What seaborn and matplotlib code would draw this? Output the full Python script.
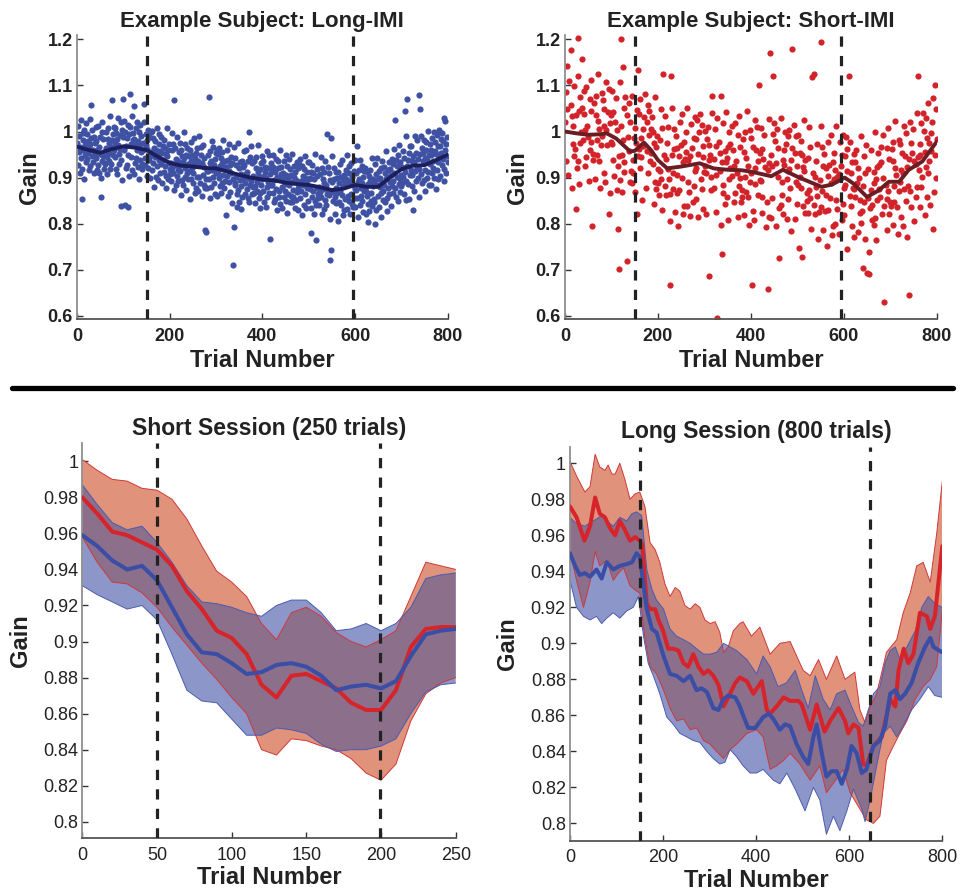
import numpy as np
import matplotlib
matplotlib.use("Agg")
import matplotlib.pyplot as plt
from matplotlib.lines import Line2D
import seaborn as sns

# ---------------------------------------------------------------------------
# Example subjects: gain on every trial (values in thousandths), trials 1..800
# None marks a trial without a usable gain value
# ---------------------------------------------------------------------------
long_imi_gain_milli = [
    975, 928, 1011, 955, 990, 911, 966, 1024, 942, 853, 919, 996, 961, 982, 896, 1003, 948, 971, 1018, 934,
    940, 994, 953, 980, 917, 967, 1028, 925, 972, 1058, 986, 947, 1003, 934, 960, 989, 909, 975, 951, 1010,
    980, 942, 917, 961, 1013, 928, 966, 909, 989, 952, 857, 899, 998, 936, 1021, 946, 984, 918, 956, 932,
    930, 964, 999, 944, 907, 984, 1007, 954, 935, 976, 1033, 918, 967, 929, 981, 1068, 995, 948, 1010, 959,
    1007, 944, 975, 919, 996, 984, 908, 971, 1029, 952, 930, 992, 962, 1020, 938, 838, 895, 1003, 1070, 989,
    959, 1023, 840, 998, 921, 968, 986, 927, 1015, 949, 836, 904, 994, 1010, 1081, 972, 945, 1034, 916, 981,
    996, 1056, 907, 983, 970, 931, 1008, 943, 959, 1021, 922, 979, 999, 897, 973, 938, 1014, 956, 991, 919,
    930, 975, 959, 1060, 1020, 943, 927, 994, 970, 904, 981, 963, 920, 1003, 938, 989, 947, 899, 998, 956,
    917, 1001, 954, 931, 986, 879, 965, 944, 979, 902, 961, 925, 1007, 949, 894, 973, 938, 994, 911, 958,
    989, 930, 954, 888, 968, 939, 913, 982, 926, 965, 877, 951, 904, 1007, 946, 896, 959, 932, 973, 919,
    907, 931, 893, 959, 921, 996, 911, 973, 874, 1068, 927, 964, 884, 941, 903, 988, 936, 892, 917, 955,
    925, 976, 914, 961, 862, 947, 895, 933, 884, 999, 942, 901, 920, 973, 950, 873, 910, 965, 930, 896,
    947, 914, 961, 853, 937, 896, 978, 920, 950, 888, 910, 987, 929, 866, 942, 954, 877, 933, 902, 965,
    937, 872, 990, 901, 928, 889, 966, 950, 860, 932, 905, 971, 883, 942, 924, 877, 786, 896, 781, 915,
    877, 949, 914, 1076, 896, 931, 855, 957, 937, 880, 979, 917, 901, 966, 889, 928, 941, 865, 910, 954,
    918, 960, 861, 909, 951, 900, 965, 882, 925, 943, 866, 932, 956, 889, 905, 982, 877, 921, 937, 892,
    924, 818, 960, 904, 939, 860, 915, 973, 891, 927, 868, 945, 910, 931, 845, 710, 897, 792, 967, 883,
    888, 942, 901, 928, 865, 836, 976, 873, 920, 846, 934, 895, 832, 882, 908, 937, 857, 923, 899, 958,
    927, 889, 864, 908, 960, 875, 913, 856, 936, 899, 1000, 846, 945, 883, 968, 893, 931, 865, 903, 879,
    867, 901, 936, 881, 844, 921, 944, 891, 872, 913, 970, 855, 904, 866, 918, 833, 932, 885, 947, 896,
    935, 872, 903, 847, 924, 912, 836, 899, 957, 880, 858, 920, 890, 948, 866, 907, 766, 931, 884, 917,
    885, 949, 866, 924, 847, 894, 912, 853, 941, 875, 902, 830, 920, 936, 859, 898, 871, 960, 842, 907,
    923, 879, 834, 910, 897, 858, 935, 870, 886, 948, 849, 906, 926, 824, 900, 865, 941, 883, 918, 846,
    861, 906, 890, 846, 951, 874, 858, 925, 901, 835, 912, 894, 851, 934, 869, 920, 878, 830, 929, 887,
    856, 940, 893, 870, 925, 818, 904, 883, 918, 841, 900, 864, 946, 888, 833, 912, 877, 933, 850, 897,
    934, 875, 899, 833, 913, 780, 858, 927, 871, 910, 822, 896, 849, 952, 765, 841, 904, 877, 918, 864,
    855, 879, 841, 907, 869, 944, 859, 921, 822, 898, 875, 912, 832, 889, 851, 936, 884, 840, 865, 994,
    873, 924, 862, 909, 810, 895, 721, 985, 743, 947, 890, 849, 868, 921, 898, 821, 858, 913, 878, 844,
    899, 866, 913, 805, 889, 848, 930, 872, 902, 840, 862, 939, 881, 818, 894, 906, 829, 885, 854, 917,
    897, 832, 950, 861, 888, 849, 926, 910, 820, 892, 865, 931, 843, 902, 884, 837, 914, 856, 939, 875,
    837, 909, 874, 969, 856, 891, 815, 917, 897, 840, 939, 877, 861, 926, 849, 888, 901, 825, 870, 914,
    879, 921, 822, 870, 912, 861, 803, 843, 886, 904, 827, 893, 917, 850, 866, 943, 838, 882, 898, 853,
    893, 846, 929, 800, 908, 829, 884, 942, 860, 896, 837, 914, 879, 900, 814, 921, 866, 889, 936, 852,
    870, 924, 883, 910, 847, 897, 958, 855, 902, 828, 916, 877, 933, 864, 890, 919, 839, 905, 881, 940,
    930, 892, 867, 911, 963, 878, 1025, 859, 939, 902, 925, 849, 948, 886, 971, 896, 934, 868, 906, 882,
    888, 922, 957, 902, 865, 942, 1045, 912, 893, 852, 991, 1070, 925, 887, 939, 854, 953, 906, 968, 917,
    969, 906, 937, 881, 830, 946, 870, 933, 991, 914, 892, 954, 924, 982, 900, 941, 857, 1079, 918, 951,
    1049, 990, 907, 965, 888, 935, 953, 894, 982, 916, 943, 871, 961, 977, 900, 939, 912, 1001, 883, 948,
    974, 930, 885, 961, 948, 909, 986, 921, 937, 999, 900, 957, 977, 875, 951, 916, 992, 934, 969, 897,
    1004, 945, 969, 903, 983, 954, 928, 997, 941, 980, 892, 1029, 919, 1022, 961, 911, 974, 947, 988, 934,
]

N = None
short_imi_gain_milli = [
    1020, 936, 1085, 1142, 1048, 905, N, 1109, N, N, N, 1058, 1176, 1033, 878, N, 972, 1013, 1098, 947,
    963, N, 831, 1035, 921, N, 1121, 936, 1202, 887, 1045, 975, 1076, N, 999, 1051, 1158, N, 982, 1089,
    1038, N, 925, 1004, 1097, 944, 1013, N, N, 988, N, 892, 1070, 959, 1112, 977, 1045, 794, N, 952,
    939, N, 1063, N, 898, 1036, 1078, 982, 948, 1022, 1124, N, 1006, 937, N, 878, N, 971, 1083, 991,
    1069, N, 1011, 910, 1049, N, 891, 1004, 1108, 970, N, 1042, N, 1092, 822, 1018, 867, N, 977, 1036,
    972, 1088, 938, 1043, 904, N, 1021, N, 1073, N, 1003, 873, 789, N, 926, 701, 947, 1107, 895, 1012,
    1200, 950, 869, 1139, 982, 912, 1051, 934, N, 1074, N, N, 1035, 718, 988, N, 1062, 957, 1020, 891,
    915, N, N, 888, 1077, 939, 910, N, 987, 868, 1007, 975, N, 1047, N, 822, 946, 1133, 1038, 962,
    920, 1071, 986, 945, N, 851, 1006, 968, 1031, N, N, N, 1082, N, 878, 1021, 958, 1058, 909, 993,
    1044, 937, N, N, 1006, 954, N, 1031, 930, 1000, 842, 975, 891, 1076, 966, 876, 990, N, N, 918,
    889, N, 863, 982, 914, 1049, 896, 1007, 829, N, 1124, N, N, 950, 881, 1034, 941, 862, N, 975,
    918, 1010, 898, N, 805, 666, 864, 1120, N, 1051, 949, 875, 909, 1005, 963, 825, N, 990, N, 866,
    965, 906, N, 796, 947, 874, 1021, N, 971, N, 899, 1037, 933, 820, N, 978, 839, 940, N, 998,
    955, 838, 1050, 890, 939, 869, N, N, 816, 946, N, 1016, N, 964, N, 847, 986, 881, 1031, 915,
    854, 983, 920, 1025, N, 951, 814, 998, N, N, 1037, N, 897, 1014, 875, 945, 969, 832, 913, N,
    925, 1001, 822, 909, 984, N, 1010, N, 938, 970, 687, 950, N, 873, 902, 1040, 1077, N, N, 878,
    940, N, 1005, 905, 968, 825, 595, 1029, N, N, N, 978, 915, 953, 798, 1078, 735, 933, 1018, 867,
    885, N, N, 957, 843, 933, 1043, 858, 942, 809, 967, 897, 998, N, 921, 973, N, N, 904, 1011,
    960, N, 847, 926, 1019, 866, 935, N, N, 910, N, 814, 992, 881, 1034, 899, 967, 848, N, 874,
    859, N, 983, N, 818, 956, 998, 902, 868, 942, 1044, N, 926, 857, N, 798, N, 891, 1003, 911,
    986, N, 666, 827, 966, N, 808, 921, 1025, 887, N, 959, N, 1009, 862, 935, 1100, N, 894, 953,
    892, 1008, 858, 963, 824, N, 941, N, 993, N, 923, 793, N, N, 846, 916, 658, 1027, 815, 932,
    N, 1170, 813, 950, 926, 856, 995, 1120, N, 1018, N, N, 979, 795, 932, N, 1006, 901, 964, 835,
    726, N, N, 840, 1029, 891, 862, N, 939, 820, 959, 927, N, 999, N, 973, 898, 811, 990, 914,
    853, 1004, 919, 878, N, 784, 939, 1180, 964, N, N, N, 1015, N, 811, 954, 891, 991, 842, 926,
    992, 885, N, 748, 954, 902, N, 979, 878, 948, 728, 923, 839, 1024, 914, 824, 938, N, N, 866,
    849, N, 823, 942, 874, 1009, 856, 967, 789, N, 1118, N, N, 910, 841, 1125, 901, 822, N, 935,
    880, 972, 860, N, 767, N, 826, 895, N, 1013, 1194, 837, 871, 967, 925, 787, N, 952, N, 828,
    921, 862, N, 752, 903, 830, 977, N, 927, N, 855, 993, 889, 776, N, 934, 795, 896, N, 954,
    917, 800, 1012, 852, 901, 831, N, N, 778, 908, N, 978, N, 926, N, 809, 948, 843, 993, 877,
    818, 947, 884, 989, N, 915, 744, 962, N, N, 1120, N, 861, 978, 839, 909, 933, 796, 877, N,
    875, 951, 772, 859, 934, N, 960, N, 888, 920, 781, 900, N, 823, 852, 990, 801, N, N, 828,
    881, 704, 946, 846, 909, 766, N, 970, N, N, 693, 919, 856, 690, 739, N, 833, 874, 959, 808,
    840, N, N, 912, 798, 888, 998, 813, 897, 764, 922, 852, 953, N, 876, 928, N, N, 859, 966,
    933, N, 820, 899, 992, 839, 630, N, N, 883, N, 787, 965, 854, 1007, 872, 940, 821, N, 847,
    838, N, 962, N, 797, 935, 977, 881, 847, 921, 1023, N, 905, 836, N, 777, N, 870, 982, 890,
    974, N, 916, 815, 954, N, 796, 909, 1013, 875, N, 947, N, 997, 850, 923, 772, N, 882, 941,
    646, 1021, 871, 976, 837, N, 954, N, 1006, N, 936, 806, N, N, 859, 929, 880, 1040, 1120, 945,
    N, 917, 836, 973, 949, 879, 1018, 901, N, 1041, N, N, 1002, 818, 955, N, 1029, 924, 987, 858,
    910, 1061, 976, 935, N, 841, 996, 958, 1021, N, 788, N, 1072, N, 868, 1100, 948, 1048, 899, 983,
]

# Running-average curves drawn through the example subjects
long_smooth_trial = [0, 25, 50, 75, 100, 125, 150, 175, 200, 225, 250, 275, 300, 325, 350, 375, 400,
                     425, 450, 475, 500, 525, 550, 575, 600, 625, 650, 675, 700, 725, 750, 775, 800]
long_smooth_gain = [0.967, 0.960, 0.954, 0.962, 0.968, 0.965, 0.960, 0.945, 0.932, 0.926, 0.924, 0.921,
                    0.920, 0.913, 0.906, 0.900, 0.896, 0.894, 0.889, 0.886, 0.884, 0.879, 0.873, 0.876,
                    0.884, 0.880, 0.880, 0.900, 0.918, 0.926, 0.927, 0.938, 0.950]

short_smooth_trial = [0, 25, 50, 75, 90, 110, 140, 150, 170, 185, 200, 220, 250, 290, 320, 350, 380,
                      400, 444, 469, 502, 552, 575, 602, 621, 650, 675, 697, 719, 740, 769, 800]
short_smooth_gain = [1.000, 0.996, 0.993, 0.994, 0.996, 0.985, 0.957, 0.958, 0.976, 0.960, 0.938, 0.920,
                     0.924, 0.931, 0.920, 0.917, 0.916, 0.913, 0.903, 0.917, 0.901, 0.880, 0.885, 0.900,
                     0.887, 0.858, 0.872, 0.891, 0.891, 0.917, 0.935, 0.978]

example_markers = [150, 595]

# ---------------------------------------------------------------------------
# Group averages, short session (250 trials): mean and band limits
# ---------------------------------------------------------------------------
ss_trial = [0, 10, 20, 30, 40, 50, 60, 70, 80, 90, 100, 110, 120, 130, 140, 150, 160, 170, 180,
            190, 200, 210, 220, 230, 240, 250]
ss_red_mean = [0.980, 0.971, 0.961, 0.959, 0.955, 0.951, 0.942, 0.928, 0.918, 0.906, 0.902, 0.893, 0.876,
               0.869, 0.881, 0.882, 0.878, 0.874, 0.866, 0.862, 0.862, 0.873, 0.897, 0.907, 0.908, 0.908]
ss_red_hi = [1.001, 0.995, 0.990, 0.989, 0.985, 0.984, 0.979, 0.968, 0.953, 0.939, 0.933, 0.925, 0.910,
             0.901, 0.916, 0.919, 0.914, 0.905, 0.900, 0.897, 0.901, 0.906, 0.925, 0.944, 0.942, 0.940]
ss_red_lo = [0.958, 0.944, 0.933, 0.932, 0.927, 0.919, 0.908, 0.898, 0.888, 0.879, 0.869, 0.860, 0.840,
             0.837, 0.846, 0.845, 0.842, 0.840, 0.835, 0.827, 0.823, 0.832, 0.856, 0.871, 0.877, 0.880]
ss_blue_mean = [0.959, 0.953, 0.945, 0.940, 0.942, 0.934, 0.919, 0.904, 0.894, 0.893, 0.888, 0.882, 0.883,
                0.887, 0.888, 0.886, 0.881, 0.873, 0.875, 0.876, 0.874, 0.878, 0.892, 0.904, 0.906, 0.907]
ss_blue_hi = [0.987, 0.976, 0.966, 0.962, 0.964, 0.955, 0.944, 0.931, 0.922, 0.921, 0.919, 0.916, 0.914,
              0.920, 0.923, 0.923, 0.916, 0.906, 0.907, 0.910, 0.906, 0.910, 0.919, 0.935, 0.937, 0.938]
ss_blue_lo = [0.931, 0.926, 0.922, 0.918, 0.920, 0.912, 0.893, 0.873, 0.867, 0.866, 0.857, 0.848, 0.848,
              0.852, 0.851, 0.849, 0.843, 0.839, 0.840, 0.840, 0.842, 0.846, 0.860, 0.872, 0.876, 0.877]
ss_markers = [50, 199]

# ---------------------------------------------------------------------------
# Group averages, long session (800 trials)
# ---------------------------------------------------------------------------
ls_red_mean_t = [0, 14, 31, 43, 54, 64, 75, 86, 97, 107, 118, 129, 140, 150, 155, 165, 172, 183, 190, 200,
                 211, 222, 233, 244, 254, 265, 276, 287, 297, 308, 319, 330, 340, 355, 365, 380, 394, 412,
                 423, 430, 444, 459, 473, 491, 498, 516, 530, 547, 559, 577, 591, 598, 609, 620, 630, 637,
                 652, 670, 688, 699, 706, 717, 727, 738, 752, 767, 774, 784, 800]
ls_red_mean = [0.976, 0.970, 0.957, 0.965, 0.981, 0.972, 0.970, 0.964, 0.960, 0.968, 0.963, 0.957, 0.959,
               0.957, 0.955, 0.922, 0.919, 0.919, 0.913, 0.907, 0.897, 0.897, 0.896, 0.889, 0.887, 0.894,
               0.887, 0.883, 0.885, 0.882, 0.877, 0.865, 0.870, 0.878, 0.881, 0.879, 0.872, 0.879, 0.863,
               0.861, 0.865, 0.870, 0.868, 0.868, 0.866, 0.852, 0.866, 0.851, 0.857, 0.864, 0.857, 0.850,
               0.855, 0.853, 0.833, 0.832, 0.843, 0.848, 0.869, 0.865, 0.885, 0.897, 0.889, 0.894, 0.917,
               0.915, 0.908, 0.915, 0.954]

ls_red_hi_t = [0, 14, 32, 43, 54, 64, 75, 82, 90, 97, 107, 118, 129, 140, 150, 161, 172, 183, 193, 204,
               215, 226, 236, 247, 258, 269, 279, 290, 301, 312, 322, 330, 340, 351, 365, 372, 390, 408,
               430, 451, 473, 501, 516, 534, 551, 573, 591, 612, 623, 634, 645, 659, 680, 702, 716, 731,
               745, 759, 774, 788, 800]
ls_red_hi = [1.001, 0.993, 0.984, 0.987, 1.005, 0.998, 0.996, 0.999, 0.994, 0.994, 1.000, 0.991, 0.980,
             0.983, 0.984, 0.976, 0.956, 0.952, 0.945, 0.933, 0.926, 0.931, 0.929, 0.921, 0.919, 0.922,
             0.920, 0.913, 0.911, 0.912, 0.906, 0.895, 0.898, 0.907, 0.911, 0.912, 0.904, 0.909, 0.894,
             0.900, 0.901, 0.885, 0.882, 0.891, 0.880, 0.893, 0.880, 0.884, 0.863, 0.856, 0.865, 0.872,
             0.895, 0.902, 0.917, 0.928, 0.943, 0.945, 0.934, 0.961, 0.990]

ls_red_lo_t = [0, 14, 29, 43, 54, 64, 79, 93, 104, 115, 129, 143, 150, 160, 172, 186, 201, 215, 229, 244,
               258, 272, 287, 301, 315, 330, 344, 358, 380, 401, 415, 430, 444, 459, 473, 494, 516, 537,
               551, 565, 587, 602, 623, 637, 652, 666, 680, 695, 709, 724, 742, 759, 774, 788, 800]
ls_red_lo = [0.951, 0.935, 0.920, 0.934, 0.951, 0.943, 0.946, 0.935, 0.939, 0.942, 0.932, 0.929, 0.928,
             0.905, 0.887, 0.883, 0.874, 0.864, 0.857, 0.858, 0.852, 0.853, 0.846, 0.844, 0.840, 0.836,
             0.841, 0.844, 0.850, 0.852, 0.848, 0.830, 0.832, 0.835, 0.839, 0.833, 0.824, 0.832, 0.817,
             0.822, 0.830, 0.817, 0.808, 0.802, 0.800, 0.804, 0.835, 0.843, 0.850, 0.857, 0.869, 0.876,
             0.880, 0.887, 0.918]

ls_blue_mean_t = [0, 11, 21, 32, 43, 57, 68, 79, 93, 107, 122, 133, 143, 150, 158, 165, 176, 186, 201, 215,
                  229, 244, 258, 272, 283, 294, 308, 319, 330, 340, 355, 365, 372, 383, 398, 415, 427, 437,
                  451, 462, 473, 487, 501, 512, 523, 530, 541, 551, 562, 573, 584, 595, 605, 616, 627, 637,
                  652, 666, 677, 688, 699, 709, 720, 734, 748, 763, 774, 781, 800]
ls_blue_mean = [0.950, 0.943, 0.938, 0.939, 0.937, 0.941, 0.936, 0.945, 0.941, 0.943, 0.944, 0.945, 0.950,
                0.948, 0.932, 0.919, 0.908, 0.906, 0.893, 0.883, 0.882, 0.879, 0.882, 0.874, 0.875, 0.873,
                0.864, 0.863, 0.869, 0.871, 0.870, 0.865, 0.860, 0.853, 0.853, 0.859, 0.861, 0.858, 0.852,
                0.855, 0.854, 0.844, 0.837, 0.833, 0.848, 0.855, 0.839, 0.826, 0.829, 0.829, 0.822, 0.830,
                0.843, 0.839, 0.828, 0.830, 0.843, 0.846, 0.854, 0.872, 0.874, 0.869, 0.872, 0.878, 0.889,
                0.898, 0.903, 0.898, 0.895]

ls_blue_hi_t = [0, 11, 21, 32, 43, 57, 68, 79, 93, 107, 122, 133, 143, 154, 165, 176, 186, 201, 215, 229,
                244, 258, 272, 287, 301, 315, 330, 344, 358, 380, 401, 415, 430, 447, 465, 484, 498, 512,
                527, 544, 559, 573, 591, 605, 620, 630, 641, 652, 666, 677, 688, 699, 709, 724, 742, 756,
                770, 784, 800]
ls_blue_hi = [0.970, 0.967, 0.966, 0.965, 0.967, 0.969, 0.971, 0.968, 0.965, 0.970, 0.968, 0.972, 0.973,
              0.971, 0.941, 0.930, 0.924, 0.919, 0.908, 0.904, 0.902, 0.900, 0.897, 0.894, 0.894, 0.895,
              0.900, 0.898, 0.896, 0.891, 0.883, 0.893, 0.887, 0.876, 0.878, 0.885, 0.874, 0.864, 0.882,
              0.869, 0.863, 0.872, 0.874, 0.865, 0.856, 0.854, 0.863, 0.872, 0.876, 0.889, 0.896, 0.898,
              0.891, 0.898, 0.907, 0.920, 0.926, 0.922, 0.920]

ls_blue_lo_t = [0, 14, 29, 43, 57, 68, 79, 93, 107, 122, 136, 147, 158, 168, 179, 193, 208, 222, 236, 251,
                265, 279, 294, 308, 322, 333, 344, 358, 372, 387, 401, 415, 437, 451, 466, 484, 505, 523,
                537, 551, 566, 580, 595, 609, 627, 634, 645, 659, 673, 688, 702, 716, 734, 752, 770, 784, 800]
ls_blue_lo = [0.935, 0.920, 0.915, 0.913, 0.915, 0.911, 0.914, 0.917, 0.914, 0.918, 0.920, 0.926, 0.904,
              0.889, 0.882, 0.872, 0.859, 0.855, 0.850, 0.848, 0.846, 0.845, 0.840, 0.836, 0.833, 0.834,
              0.841, 0.837, 0.832, 0.828, 0.828, 0.830, 0.824, 0.822, 0.828, 0.819, 0.807, 0.820, 0.813,
              0.794, 0.804, 0.796, 0.807, 0.819, 0.808, 0.801, 0.813, 0.832, 0.850, 0.854, 0.848, 0.854,
              0.863, 0.869, 0.876, 0.871, 0.870]
ls_markers = [150, 645]

# ---------------------------------------------------------------------------
# Colours
# ---------------------------------------------------------------------------
BLUE_DOT = "#3f51a3"
RED_DOT = "#d2232a"
NAVY_LINE = "#1d1f5c"
MAROON_LINE = "#6b1d24"
RED_MEAN = "#d7242b"
BLUE_MEAN = "#3a4ea6"
RED_FILL = "#e0937a"
BLUE_FILL = "#8c96c9"
OVERLAP_FILL = "#8b6f8b"
RED_EDGE = "#d0383a"
BLUE_EDGE = "#4c5cb0"
DASH_COLOR = "#222222"
TEXT_COLOR = "#222222"

sns.set_style("ticks")
plt.rcParams["font.family"] = ["Liberation Sans", "DejaVu Sans"]

W, H = 978, 890
fig = plt.figure(figsize=(W / 100, H / 100), dpi=100)


def px_axes(left, top, right, bottom):
    """Create axes from pixel edges of the canvas."""
    return fig.add_axes([left / W, 1 - bottom / H, (right - left) / W, (bottom - top) / H])


def style_axes(ax, xticks, yticks, bold):
    weight = "bold" if bold else "normal"
    for side in ("top", "right"):
        ax.spines[side].set_visible(False)
    ax.spines["left"].set_color("#8f8f8f")
    ax.spines["left"].set_linewidth(1.3)
    ax.spines["bottom"].set_color("#555555")
    ax.spines["bottom"].set_linewidth(1.3)
    ax.set_xticks(xticks, labels=[f"{v:g}" for v in xticks], fontsize=13, fontweight=weight,
                  color=TEXT_COLOR)
    ax.set_yticks(yticks, labels=[f"{round(v, 2):g}" for v in yticks], fontsize=13, fontweight=weight,
                  color=TEXT_COLOR)
    ax.tick_params(axis="both", direction="in", length=4, width=1, color="#333333")
    ax.tick_params(axis="x", pad=6)
    ax.tick_params(axis="y", pad=3)


def add_markers(ax, positions):
    for x in positions:
        ax.axvline(x, color=DASH_COLOR, lw=2.3, ls=(0, (3.2, 2.9)), zorder=6)


# ---------------------------------------------------------------------------
# Top row: example subjects
# ---------------------------------------------------------------------------
trial_numbers = np.arange(1, len(long_imi_gain_milli) + 1)

examples = [
    (px_axes(77, 35, 447.7, 319.3), long_imi_gain_milli, BLUE_DOT, long_smooth_trial, long_smooth_gain,
     NAVY_LINE, "Example Subject: Long-IMI"),
    (px_axes(565, 35, 936.7, 319.3), short_imi_gain_milli, RED_DOT, short_smooth_trial, short_smooth_gain,
     MAROON_LINE, "Example Subject: Short-IMI"),
]

for ax, gains_milli, dot_color, sm_t, sm_g, line_color, title in examples:
    gains = np.array(gains_milli, dtype=float) / 1000.0
    sns.scatterplot(x=trial_numbers, y=gains, ax=ax, color=dot_color, s=20, linewidth=0,
                    legend=False, zorder=2)
    sns.lineplot(x=sm_t, y=sm_g, ax=ax, color=line_color, linewidth=2.8, estimator=None,
                 sort=False, legend=False, zorder=4)
    add_markers(ax, example_markers)
    ax.set_xlim(0, 800)
    ax.set_ylim(0.5925, 1.2095)
    style_axes(ax, [0, 200, 400, 600, 800], [0.6, 0.7, 0.8, 0.9, 1.0, 1.1, 1.2], bold=True)
    ax.set_title(title, fontsize=16, fontweight="bold", color=TEXT_COLOR, pad=6)
    ax.set_xlabel("Trial Number", fontsize=17, fontweight="bold", color=TEXT_COLOR, labelpad=3)
    ax.set_ylabel("Gain", fontsize=17, fontweight="bold", color=TEXT_COLOR, labelpad=5)

# thick rule separating the two rows
fig.add_artist(Line2D([12 / W, 953 / W], [1 - 388 / H, 1 - 388 / H], lw=3.8, color="black",
                      transform=fig.transFigure))


# ---------------------------------------------------------------------------
# Bottom row: group averages with bands
# ---------------------------------------------------------------------------
def band_polygon(t_hi, v_hi, t_lo, v_lo):
    xs = list(t_hi) + list(t_lo)[::-1]
    ys = list(v_hi) + list(v_lo)[::-1]
    return xs, ys


def draw_group(ax, red_hi, red_lo, blue_hi, blue_lo, red_mean, blue_mean):
    rx, ry = band_polygon(*red_hi, *red_lo)
    bx, by = band_polygon(*blue_hi, *blue_lo)
    red_patch = ax.fill(rx, ry, color=RED_FILL, lw=0, zorder=1)[0]
    ax.fill(bx, by, color=BLUE_FILL, lw=0, zorder=1.1)
    overlap = ax.fill(bx, by, color=OVERLAP_FILL, lw=0, zorder=1.2)[0]
    overlap.set_clip_path(red_patch)
    for (t, v), c in ((red_hi, RED_EDGE), (red_lo, RED_EDGE), (blue_hi, BLUE_EDGE), (blue_lo, BLUE_EDGE)):
        ax.plot(t, v, color=c, lw=0.7, zorder=1.5)
    sns.lineplot(x=red_mean[0], y=red_mean[1], ax=ax, color=RED_MEAN, linewidth=2.9, estimator=None,
                 sort=False, legend=False, zorder=3)
    sns.lineplot(x=blue_mean[0], y=blue_mean[1], ax=ax, color=BLUE_MEAN, linewidth=2.9, estimator=None,
                 sort=False, legend=False, zorder=3.1)


gain_ticks = [0.8, 0.82, 0.84, 0.86, 0.88, 0.9, 0.92, 0.94, 0.96, 0.98, 1.0]

ax_s = px_axes(82.3, 443.3, 455.7, 838.3)
draw_group(ax_s, (ss_trial, ss_red_hi), (ss_trial, ss_red_lo), (ss_trial, ss_blue_hi),
           (ss_trial, ss_blue_lo), (ss_trial, ss_red_mean), (ss_trial, ss_blue_mean))
add_markers(ax_s, ss_markers)
ax_s.set_xlim(0, 250)
ax_s.set_ylim(0.7908, 1.0100)
style_axes(ax_s, [0, 50, 100, 150, 200, 250], gain_ticks, bold=False)
ax_s.set_title("Short Session (250 trials)", fontsize=16.5, fontweight="bold", color=TEXT_COLOR, pad=6)

ax_l = px_axes(570, 446.7, 942.3, 840.7)
draw_group(ax_l, (ls_red_hi_t, ls_red_hi), (ls_red_lo_t, ls_red_lo), (ls_blue_hi_t, ls_blue_hi),
           (ls_blue_lo_t, ls_blue_lo), (ls_red_mean_t, ls_red_mean), (ls_blue_mean_t, ls_blue_mean))
add_markers(ax_l, ls_markers)
ax_l.set_xlim(0, 800)
ax_l.set_ylim(0.7904, 1.0092)
style_axes(ax_l, [0, 200, 400, 600, 800], gain_ticks, bold=False)
ax_l.set_title("Long Session (800 trials)", fontsize=16.5, fontweight="bold", color=TEXT_COLOR, pad=6)

for ax in (ax_s, ax_l):
    ax.set_xlabel("Trial Number", fontsize=17, fontweight="bold", color=TEXT_COLOR, labelpad=2)
    ax.set_ylabel("Gain", fontsize=17, fontweight="bold", color=TEXT_COLOR, labelpad=8)

fig.savefig("out.png", dpi=100)
